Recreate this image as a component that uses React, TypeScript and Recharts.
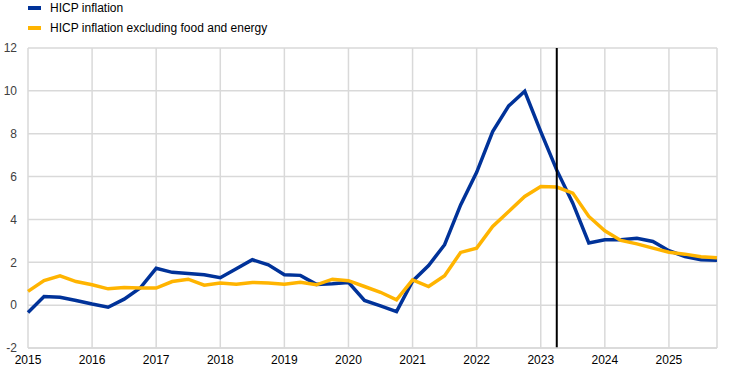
import React from 'react';
import { LineChart, Line, XAxis, YAxis, CartesianGrid, ReferenceLine } from 'recharts';

// quarterly observations, 2015Q1 .. 2025Q4
const startYear = 2015;
const yearTicks = [2015, 2016, 2017, 2018, 2019, 2020, 2021, 2022, 2023, 2024, 2025];
const yTicks = [-2, 0, 2, 4, 6, 8, 10, 12];

const hicp = [
  -0.34, 0.4, 0.37, 0.22, 0.05, -0.1, 0.28, 0.8,
  1.72, 1.53, 1.48, 1.42, 1.28, 1.7, 2.12, 1.88,
  1.42, 1.39, 0.97, 1.0, 1.06, 0.22, -0.03, -0.3,
  1.12, 1.85, 2.82, 4.68, 6.2, 8.1, 9.3, 9.98,
  8.1, 6.3, 4.76, 2.9, 3.05, 3.05, 3.12, 2.97,
  2.54, 2.27, 2.12, 2.09,
];

const hicpCore = [
  0.64, 1.15, 1.37, 1.1, 0.95, 0.76, 0.82, 0.8,
  0.8, 1.1, 1.21, 0.93, 1.03, 0.98, 1.06, 1.03,
  0.98, 1.07, 0.95, 1.21, 1.14, 0.87, 0.6, 0.25,
  1.18, 0.87, 1.37, 2.46, 2.66, 3.67, 4.37, 5.07,
  5.54, 5.51, 5.23, 4.14, 3.47, 3.02, 2.86, 2.66,
  2.47, 2.38, 2.26, 2.21,
];

const cutoff = 2023.25;

const chartData = hicp.map((v, i) => ({
  t: startYear + i / 4,
  hicp: v,
  core: hicpCore[i],
}));

const legendItems = [
  { label: 'HICP inflation', color: '#003299' },
  { label: 'HICP inflation excluding food and energy', color: '#FFB400' },
];

const font = 'Arial, "Liberation Sans", sans-serif';

export default function App() {
  return (
    <div style={{ position: 'absolute', left: 0, top: 0, width: 744, height: 378, background: '#fff' }}>
      {/* legend drawn as plain html so it doesn't eat into the plot area */}
      <div style={{ position: 'absolute', left: 28, top: -2, fontFamily: font, fontSize: 12, color: '#000', zIndex: 1 }}>
        {legendItems.map((it) => (
          <div key={it.label} style={{ display: 'flex', alignItems: 'center', height: 20 }}>
            <span style={{ display: 'inline-block', width: 13, height: 4, background: it.color, marginRight: 9 }} />
            {it.label}
          </div>
        ))}
      </div>
      <LineChart width={744} height={378} data={chartData} margin={{ top: 48, right: 27, bottom: 0, left: 0 }}>
        <CartesianGrid stroke="#d9d9d9" strokeWidth={1.5} />
        <XAxis
          dataKey="t"
          type="number"
          domain={[2015, 2025.75]}
          ticks={yearTicks}
          tickFormatter={(v) => String(v)}
          height={30}
          tickLine={false}
          tickSize={0}
          tickMargin={7}
          axisLine={{ stroke: '#d9d9d9', strokeWidth: 1.5 }}
          tick={{ fill: '#000', fontSize: 12, fontFamily: font }}
        />
        <YAxis
          domain={[-2, 12]}
          ticks={yTicks}
          width={28}
          tickLine={false}
          tickSize={0}
          tickMargin={11}
          axisLine={false}
          tick={{ fill: '#404040', fontSize: 12, fontFamily: font }}
        />
        <Line
          type="linear"
          dataKey="hicp"
          stroke="#003299"
          strokeWidth={3.5}
          dot={false}
          isAnimationActive={false}
        />
        <Line
          type="linear"
          dataKey="core"
          stroke="#FFB400"
          strokeWidth={3.5}
          dot={false}
          isAnimationActive={false}
        />
        <ReferenceLine x={cutoff} stroke="#000" strokeWidth={2} />
      </LineChart>
    </div>
  );
}
